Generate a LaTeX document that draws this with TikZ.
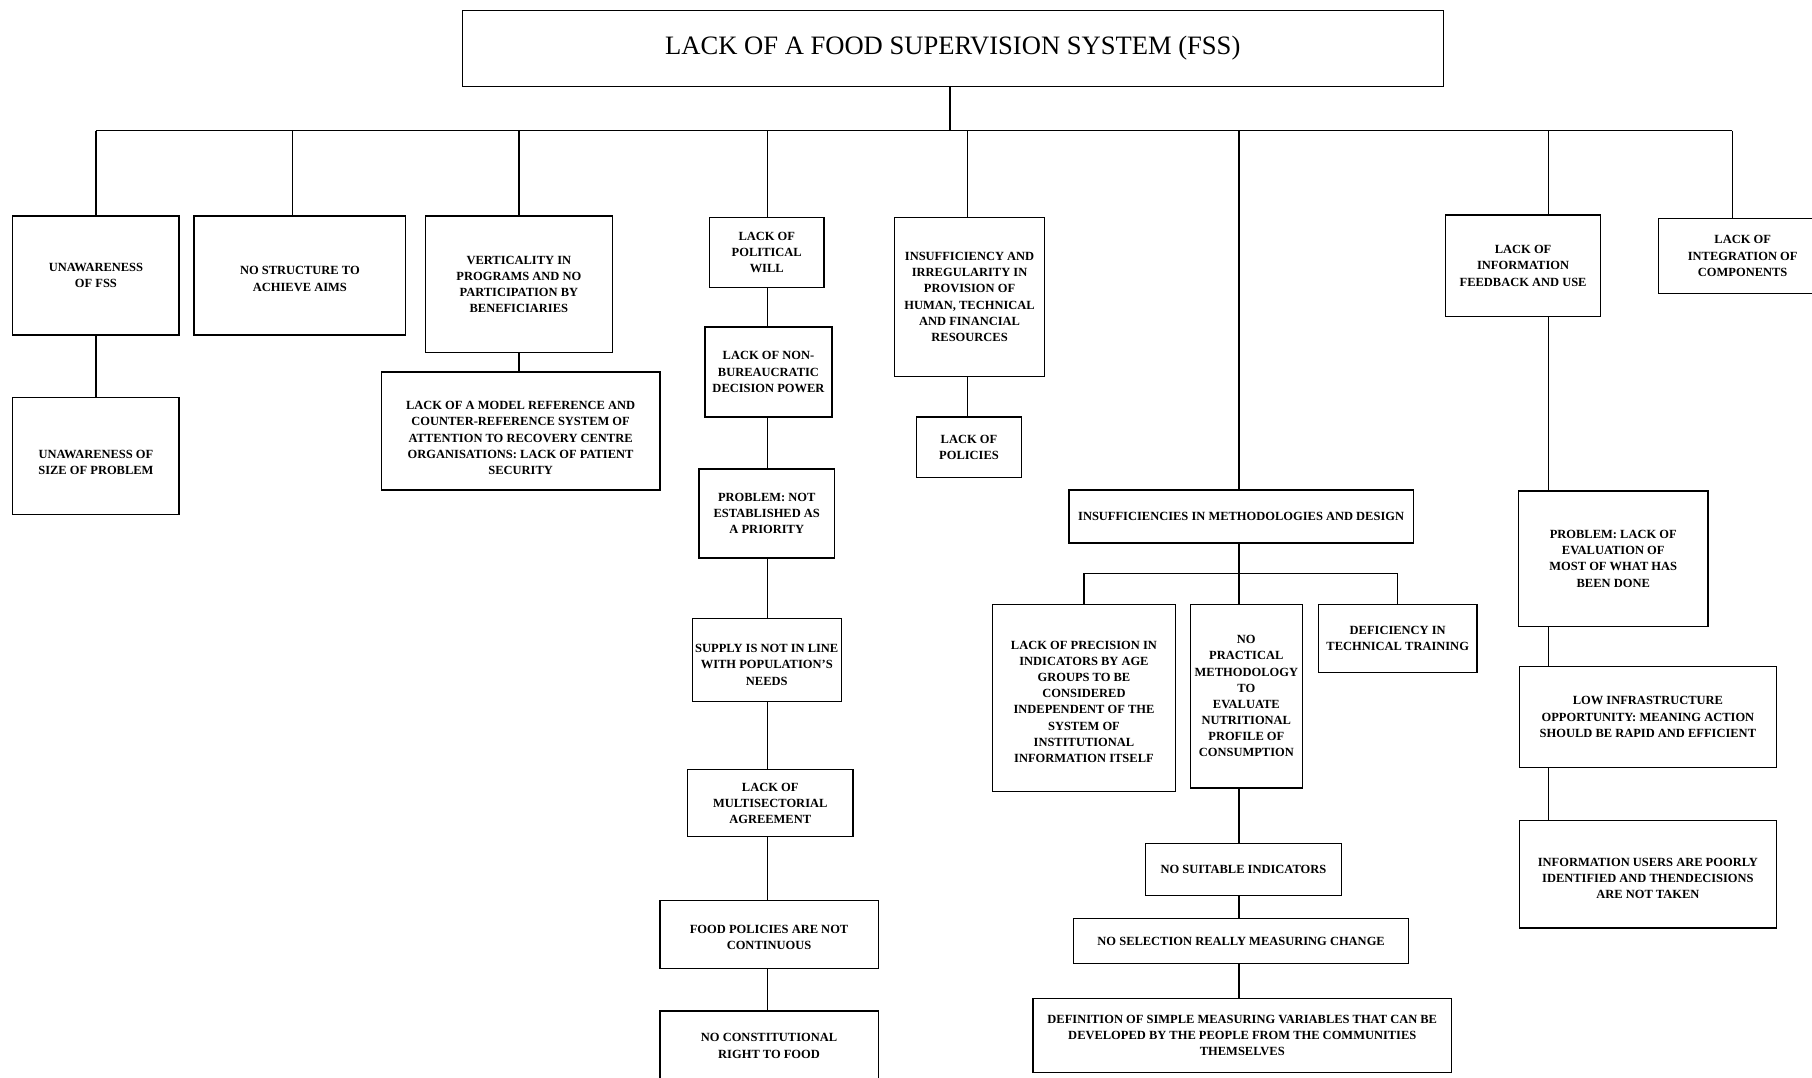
\documentclass[tikz,border=0pt]{standalone}
\usepackage{fontspec}
\setmainfont{Liberation Serif}
\begin{document}
\begin{tikzpicture}[x=0.5pt,y=-0.5pt,
  bx/.style={draw, line width=0.6pt, inner sep=0pt, align=center,
    font=\fontsize{5.4}{7}\selectfont\bfseries},
  ttl/.style={draw, line width=0.6pt, inner sep=0pt, align=center,
    font=\fontsize{11.5}{13}\selectfont},
  conn/.style={line width=0.6pt}]
\useasboundingbox (0,0) rectangle (1568,932);
\newcommand\bx[6]{\node[bx, minimum width={(#4-#2)*0.5pt}, minimum height={(#5-#3)*0.5pt}] (#1) at ({(#2+#4)/2},{(#3+#5)/2}) {#6};}
% box whose text sits lower than the centre by #7
\newcommand\bxlow[7]{\node[bx, minimum width={(#4-#2)*0.5pt}, minimum height={(#5-#3)*0.5pt}] (#1) at ({(#2+#4)/2},{(#3+#5)/2}) {\raisebox{-#7}[\height][\depth]{\begin{tabular}{@{}c@{}}#6\end{tabular}}};}
% title
\node[ttl, minimum width={849*0.5pt}, minimum height={66*0.5pt}] (title) at (824.5,42) {LACK OF A FOOD SUPERVISION SYSTEM (FSS)};
% level 1
\bx{b1}{11}{187}{155}{290}{UNAWARENESS\\OF FSS}
\bxlow{b1a}{11}{344}{155}{445}{UNAWARENESS OF\\SIZE OF PROBLEM}{3.2pt}
\bxlow{b2}{168}{187}{351}{290}{NO STRUCTURE TO\\ACHIEVE AIMS}{1.8pt}
\bx{b3}{368}{187}{530}{305}{VERTICALITY IN\\PROGRAMS AND NO\\PARTICIPATION BY\\BENEFICIARIES}
\bxlow{b3a}{330}{322}{571}{424}{LACK OF A MODEL REFERENCE AND\\COUNTER-REFERENCE SYSTEM OF\\ATTENTION TO RECOVERY CENTRE\\ORGANISATIONS: LACK OF PATIENT\\SECURITY}{3.4pt}
\bx{b4}{614}{188}{713}{249}{LACK OF\\POLITICAL\\WILL}
\bx{b4a}{610}{283}{720}{361}{LACK OF NON-\\BUREAUCRATIC\\DECISION POWER}
\bx{b4b}{605}{406}{722}{483}{PROBLEM: NOT\\ESTABLISHED AS\\A PRIORITY}
\bxlow{b4c}{599}{535}{728}{607}{SUPPLY IS NOT IN LINE\\WITH POPULATION'S\\NEEDS}{2.5pt}
\bx{b4d}{595}{666}{738}{724}{LACK OF\\MULTISECTORIAL\\AGREEMENT}
\bxlow{b4e}{571}{779}{760}{838}{FOOD POLICIES ARE NOT\\CONTINUOUS}{1.7pt}
\bx{b4f}{571}{875}{760}{935}{NO CONSTITUTIONAL\\RIGHT TO FOOD}
\bx{b5}{774}{188}{904}{326}{INSUFFICIENCY AND\\IRREGULARITY IN\\PROVISION OF\\HUMAN, TECHNICAL\\AND FINANCIAL\\RESOURCES}
\bx{b5a}{793}{361}{884}{413}{LACK OF\\POLICIES}
\bx{b6}{925}{424}{1223}{470}{INSUFFICIENCIES IN METHODOLOGIES AND DESIGN}
\bxlow{b6a}{859}{523}{1017}{685}{LACK OF PRECISION IN\\INDICATORS BY AGE\\GROUPS TO BE\\CONSIDERED\\INDEPENDENT OF THE\\SYSTEM OF\\INSTITUTIONAL\\INFORMATION ITSELF}{2pt}
\bx{b6b}{1030}{523}{1127}{682}{NO\\PRACTICAL\\METHODOLOGY\\TO\\EVALUATE\\NUTRITIONAL\\PROFILE OF\\CONSUMPTION}
\bx{b6c}{1141}{523}{1278}{582}{DEFICIENCY IN\\TECHNICAL TRAINING}
\bx{b6d}{991}{730}{1161}{775}{NO SUITABLE INDICATORS}
\bx{b6e}{929}{795}{1219}{834}{NO SELECTION REALLY MEASURING CHANGE}
\bx{b6f}{894}{864}{1256}{928}{DEFINITION OF SIMPLE MEASURING VARIABLES THAT CAN BE\\DEVELOPED BY THE PEOPLE FROM THE COMMUNITIES\\THEMSELVES}
\bx{b7}{1251}{186}{1385}{274}{LACK OF\\INFORMATION\\FEEDBACK AND USE}
\bx{b7a}{1314}{425}{1478}{542}{PROBLEM: LACK OF\\EVALUATION OF\\MOST OF WHAT HAS\\BEEN DONE}
\bx{b7b}{1315}{577}{1537}{664}{LOW INFRASTRUCTURE\\OPPORTUNITY: MEANING ACTION\\SHOULD BE RAPID AND EFFICIENT}
\bxlow{b7c}{1315}{710}{1537}{803}{INFORMATION USERS ARE POORLY\\IDENTIFIED AND THENDECISIONS\\ARE NOT TAKEN}{2.2pt}
\bx{b8}{1435}{189}{1581}{254}{LACK OF\\INTEGRATION OF\\COMPONENTS}
% connector coordinates
\coordinate (d0) at (822,113);
\coordinate (d1) at (83,113);
\coordinate (d2) at (253,113);
\coordinate (d3) at (449,113);
\coordinate (d4) at (664,113);
\coordinate (d5) at (837,113);
\coordinate (d6) at (1072,113);
\coordinate (d7) at (1340,113);
\coordinate (d8) at (1499,113);
\coordinate (s6) at (1072,496);
% bus
\draw[conn] (d0 |- title.south) -- (d0);
\draw[conn] (d1) -- (d8);
\foreach \d/\b in {d1/b1,d2/b2,d3/b3,d4/b4,d5/b5,d6/b6,d7/b7,d8/b8}
  \draw[conn] (\d) -- (\d |- \b.north);
% columns
\draw[conn] (d1 |- b1.south) -- (d1 |- b1a.north);
\draw[conn] (d3 |- b3.south) -- (d3 |- b3a.north);
\foreach \a/\b in {b4/b4a,b4a/b4b,b4b/b4c,b4c/b4d,b4d/b4e,b4e/b4f}
  \draw[conn] (d4 |- \a.south) -- (d4 |- \b.north);
\draw[conn] (d5 |- b5.south) -- (d5 |- b5a.north);
\foreach \a/\b in {b7/b7a,b7a/b7b,b7b/b7c}
  \draw[conn] (d7 |- \a.south) -- (d7 |- \b.north);
% methodology subtree
\draw[conn] (d6 |- b6.south) -- (d6 |- b6b.north);
\draw[conn] (b6a.north |- s6) -- (s6 -| b6c.north);
\draw[conn] (b6a.north |- s6) -- (b6a.north);
\draw[conn] (s6 -| b6c.north) -- (b6c.north);
\foreach \a/\b in {b6b/b6d,b6d/b6e,b6e/b6f}
  \draw[conn] (d6 |- \a.south) -- (d6 |- \b.north);
\end{tikzpicture}
\end{document}
